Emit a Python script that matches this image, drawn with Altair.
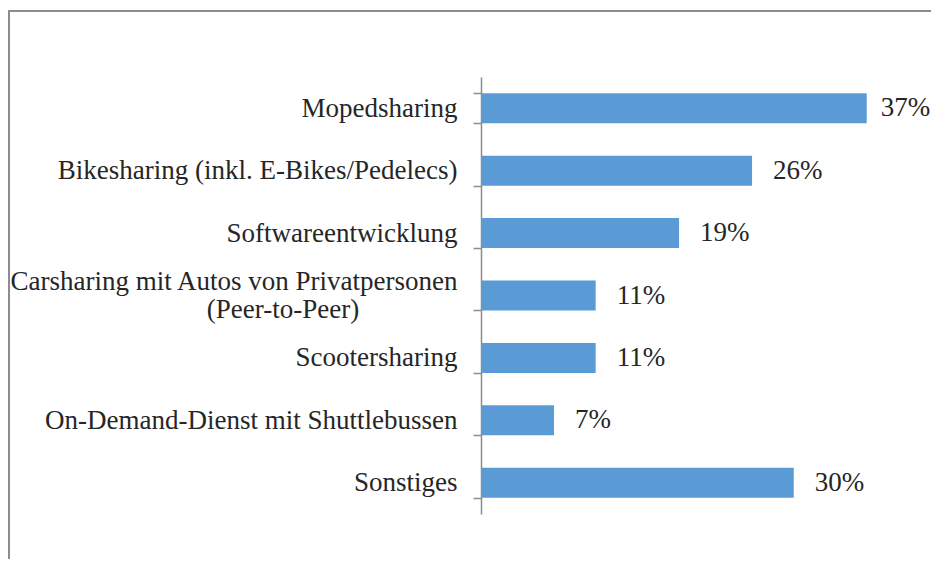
import altair as alt
import pandas as pd

categories = [
    "Mopedsharing",
    "Bikesharing (inkl. E-Bikes/Pedelecs)",
    "Softwareentwicklung",
    "Carsharing mit Autos von Privatpersonen|(Peer-to-Peer)",
    "Scootersharing\u00a0",
    "On-Demand-Dienst mit Shuttlebussen",
    "Sonstiges",
]
values = [37, 26, 19, 11, 11, 7, 30]
value_labels = ["37%", "26%", "19%", "11%", "11%", "7%", "30%"]

df = pd.DataFrame({"cat": categories, "val": values, "lab": value_labels})

FONT = "Liberation Serif"
FS = 27
TXT = "#262626"
GRAY = "#8c8c8c"

y_enc = alt.Y(
    "cat:N",
    sort=categories,
    scale=alt.Scale(paddingInner=0.52, paddingOuter=0.26),
    axis=alt.Axis(
        title=None,
        labelExpr="split(datum.label, '|')[0]",
        labelFont=FONT,
        labelFontSize=FS,
        labelColor=TXT,
        labelAlign="right",
        labelBaseline="middle",
        labelOffset={"condition": {"test": "indexof(datum.label, '|') >= 0", "value": -14}, "value": 0},
        labelPadding=16,
        labelLimit=600,
        ticks=True,
        tickSize=8,
        tickColor=GRAY,
        tickWidth=1.5,
        tickBand="extent",
        domainColor=GRAY,
        domainWidth=1.5,
        grid=False,
    ),
)
x_enc = alt.X("val:Q", scale=alt.Scale(domain=[0, 40]), axis=None)

base = alt.Chart(df)
bars = base.mark_bar(color="#5b9bd5").encode(x=x_enc, y=y_enc)
texts = base.mark_text(
    align="left",
    baseline="middle",
    dx=alt.ExprRef("datum.val >= 37 ? 14 : 21"),
    font=FONT,
    fontSize=FS,
    color=TXT,
).encode(x=x_enc, y=alt.Y("cat:N", sort=categories), text="lab:N")

second_line = (
    base.transform_filter("indexof(datum.cat, '|') >= 0")
    .transform_calculate(line2="split(datum.cat, '|')[1]")
    .mark_text(align="center", baseline="middle", dy=14, font=FONT, fontSize=FS, color=TXT)
    .encode(x=alt.value(-198), y=alt.Y("cat:N", sort=categories), text="line2:N")
)

frame_top = alt.Chart(df).mark_rule(color=GRAY, strokeWidth=2).encode(
    x=alt.value(-473), x2=alt.value(460), y=alt.value(-66)
)
frame_left = alt.Chart(df).mark_rule(color=GRAY, strokeWidth=2).encode(
    x=alt.value(-472), y=alt.value(-66), y2=alt.value(500)
)

chart = (
    alt.layer(frame_top, frame_left, bars, texts, second_line)
    .properties(
        width=417,
        height=437,
        autosize=alt.AutoSizeParams(type="none"),
        padding={"left": 473, "top": 69, "right": 33, "bottom": 45},
    )
    .configure_view(stroke=None)
)

chart.save("out.html", embed_options={"renderer": "svg", "actions": False})
